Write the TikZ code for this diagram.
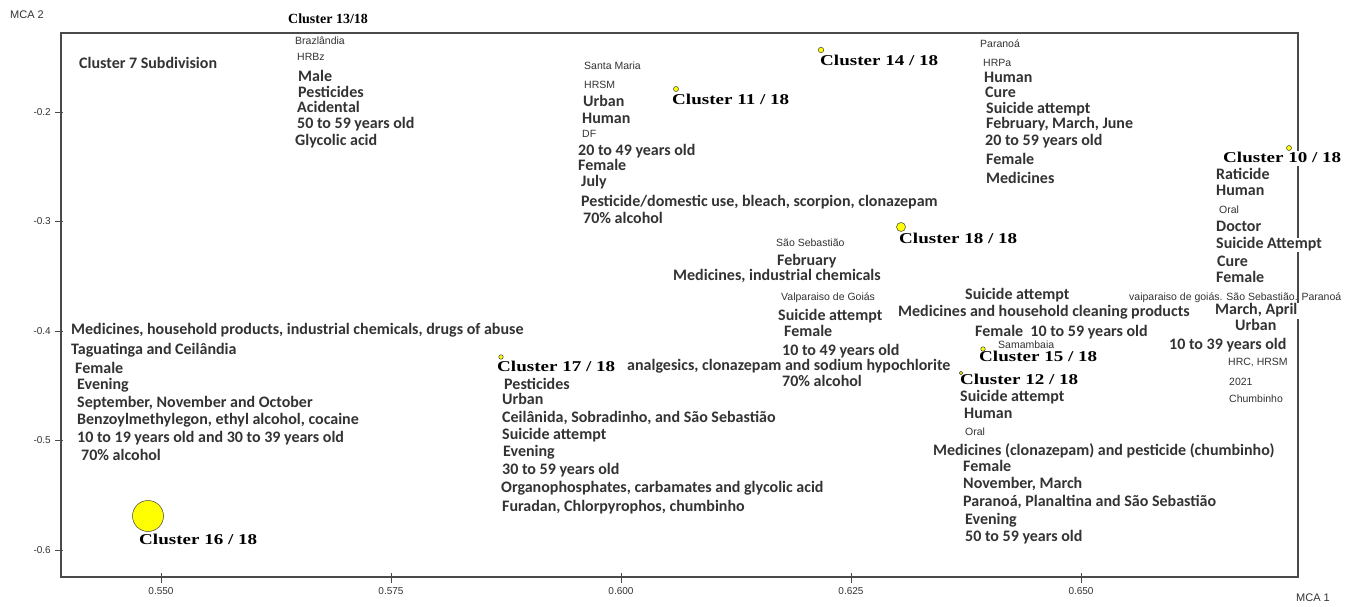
\documentclass[tikz,border=0pt]{standalone}
\usepackage{fontspec}
\newfontfamily\carl{Carlito}
\newfontfamily\ars{Liberation Sans}
\newfontfamily\tms{Liberation Serif}
\newfontfamily\clf{Liberation Serif}[FakeStretch=1.27]
\definecolor{txt}{HTML}{333333}
\definecolor{axc}{HTML}{4A4A4A}
\definecolor{dotc}{HTML}{FFFF00}
\begin{document}
\begin{tikzpicture}[x=1pt,y=-1pt,
 bt/.style={font=\carl\bfseries\fontsize{16}{16}\selectfont, text=txt, inner sep=0pt, text height=11pt, text depth=3.5pt, anchor=west},
 sm/.style={font=\ars\fontsize{10.5}{10.5}\selectfont, text=txt, inner sep=0pt, text height=7.5pt, text depth=2pt, anchor=west},
 cl/.style={font=\clf\bfseries\fontsize{15}{15}\selectfont, text=black, inner sep=0pt, text height=10pt, text depth=3pt, anchor=west},
 dot/.style={circle, draw=black!75, fill=dotc, inner sep=0pt, line width=0.5pt},
 tl/.style={font=\ars\fontsize{10}{10}\selectfont, text=txt, inner sep=0pt},
 axl/.style={font=\ars\fontsize{11}{11}\selectfont, text=txt, inner sep=0pt},
 frm/.style={draw=axc, line width=1.2pt},
 tck/.style={draw=axc, line width=0.8pt}]
\fill[white] (0,0) rectangle (1355,607);
\useasboundingbox (0,0) rectangle (1355,607);
% frame
\draw[frm] (61,33) rectangle (1298,577);
% y ticks
\foreach \yy/\lab in {112/-0.2,221.5/-0.3,331/-0.4,440.5/-0.5,550/-0.6}{
  \draw[tck] (55,\yy) -- (63,\yy);
  \node[tl, anchor=east] at (51,\yy) {\lab};
}
% x ticks
\foreach \xx/\lab in {161/0.550,391/0.575,621/0.600,851/0.625,1081/0.650}{
  \draw[tck] (\xx,573) -- (\xx,583);
  \node[tl] at (\xx,591) {\lab};
}
\node[axl, anchor=west] (mca2) at (10,15) {MCA 2};
\node[axl, anchor=west] (mca1) at (1296,598) {MCA 1};

% Cluster 7 title
\node[bt] (c7) at (79,65) {Cluster 7 Subdivision};

% Cluster 13
\node[font=\tms\bfseries\fontsize{14}{14}\selectfont, inner sep=0pt, anchor=west] (c13t) at (288,19) {Cluster 13/18};
\node[sm] (c13a) at (295,42) {Brazlândia};
\node[sm] (c13b) at (297,58) {HRBz};
\node[bt] (c13c) at (298,78) {Male};
\node[bt] (c13d) at (298,94) {Pesticides};
\node[bt] (c13e) at (297,109) {Acidental};
\node[bt] (c13f) at (297,125) {50 to 59 years old};
\node[bt] (c13g) at (295,142) {Glycolic acid};

% Cluster 11
\node[dot, minimum size=5pt] (d11) at (676,89) {};
\node[cl] (c11) at (672,101) {Cluster 11 / 18};
\node[sm] (c11a) at (584,67) {Santa Maria};
\node[sm] (c11b) at (584,86) {HRSM};
\node[bt] (c11c) at (583,103) {Urban};
\node[bt] (c11d) at (582,120) {Human};
\node[sm] (c11e) at (582,135) {DF};
\node[bt] (c11f) at (578,152) {20 to 49 years old};
\node[bt] (c11g) at (578,167) {Female};
\node[bt] (c11h) at (581,183) {July};
\node[bt] (c11i) at (581,203) {Pesticide/domestic use, bleach, scorpion, clonazepam};
\node[bt] (c11j) at (583,220) {70\% alcohol};

% Cluster 14
\node[dot, minimum size=5.5pt] (d14) at (821,50) {};
\node[cl] (c14) at (820,62) {Cluster 14 / 18};

% Paranoa block
\node[sm] (p1) at (980,45) {Paranoá};
\node[sm] (p2) at (983,64) {HRPa};
\node[bt] (p3) at (984,79) {Human};
\node[bt] (p4) at (985,94) {Cure};
\node[bt] (p5) at (986,110) {Suicide attempt};
\node[bt] (p6) at (986,125) {February, March, June};
\node[bt] (p7) at (985,142) {20 to 59 years old};
\node[bt] (p8) at (986,161) {Female};
\node[bt] (p9) at (986,180) {Medicines};

% Cluster 10
\node[dot, minimum size=5pt] (d10) at (1289,148) {};
\node[cl, fill=white, inner ysep=1pt] (c10) at (1223,159) {Cluster 10 / 18};
\node[bt] (r1) at (1216,176) {Raticide};
\node[bt] (r2) at (1216,192) {Human};
\node[sm] (r3) at (1219,211) {Oral};
\node[bt] (r4) at (1216,228) {Doctor};
\node[bt, fill=white] (r5) at (1216,245) {Suicide Attempt};
\node[bt] (r6) at (1217,263) {Cure};
\node[bt] (r7) at (1216,279) {Female};

% Cluster 18
\node[dot, minimum size=9pt] (d18) at (901,227) {};
\node[cl] (c18) at (899,240) {Cluster 18 / 18};

% middle block
\node[sm] (m1) at (776,244) {São Sebastião};
\node[bt] (m2) at (777,262) {February};
\node[bt] (m3) at (673,277) {Medicines, industrial chemicals};
\node[sm] (m4) at (781,298) {Valparaiso de Goiás};
\node[bt] (m5) at (778,317) {Suicide attempt};
\node[bt] (m6) at (784,333) {Female};
\node[bt] (m7) at (782,352) {10 to 49 years old};
\node[bt] (m8) at (627,367) {analgesics, clonazepam and sodium hypochlorite};
\node[bt] (m9) at (782,383) {70\% alcohol};

% Cluster 17
\node[dot, minimum size=4.5pt] (d17) at (501,357) {};
\node[cl] (c17) at (497,368) {Cluster 17 / 18};
\node[bt] (s1) at (504,386) {Pesticides};
\node[bt] (s2) at (502,401) {Urban};
\node[bt] (s3) at (502,419) {Ceilânida, Sobradinho, and São Sebastião};
\node[bt] (s4) at (502,436) {Suicide attempt};
\node[bt] (s5) at (503,453) {Evening};
\node[bt] (s6) at (502,471) {30 to 59 years old};
\node[bt] (s7) at (501,489) {Organophosphates, carbamates and glycolic acid};
\node[bt] (s8) at (502,508) {Furadan, Chlorpyrophos, chumbinho};

% Cluster 16 (left)
\node[bt] (l1) at (71,331) {Medicines, household products, industrial chemicals, drugs of abuse};
\node[bt] (l2) at (71,351) {Taguatinga and Ceilândia};
\node[bt] (l3) at (75,370) {Female};
\node[bt] (l4) at (77,386) {Evening};
\node[bt] (l5) at (77,404) {September, November and October};
\node[bt] (l6) at (77,421) {Benzoylmethylegon, ethyl alcohol, cocaine};
\node[bt] (l7) at (77,439) {10 to 19 years old and 30 to 39 years old};
\node[bt] (l8) at (81,457) {70\% alcohol};
\node[dot, minimum size=31pt] (d16) at (148,516) {};
\node[cl] (c16) at (139,541) {Cluster 16 / 18};

% Clusters 15 and 12
\node[bt] (q1) at (965,296) {Suicide attempt};
\node[bt] (q2) at (898,313) {Medicines and household cleaning products};
\node[bt] (q3) at (975,333) {Female\ \ 10 to 59 years old};
\node[sm] (q4) at (998,346) {Samambaia};
\node[dot, minimum size=4.5pt] (d15) at (983,349) {};
\node[cl] (c15) at (979,358) {Cluster 15 / 18};
\node[dot, minimum size=3.5pt] (d12) at (961,373) {};
\node[cl] (c12) at (960,381) {Cluster 12 / 18};
\node[bt] (q5) at (960,398) {Suicide attempt};
\node[bt] (q6) at (964,415) {Human};
\node[sm] (q7) at (965,433) {Oral};
\node[bt] (q8) at (933,452) {Medicines (clonazepam) and pesticide (chumbinho)};
\node[bt] (q9) at (963,468) {Female};
\node[bt] (q10) at (963,485) {November, March};
\node[bt] (q11) at (963,503) {Paranoá, Planaltina and São Sebastião};
\node[bt] (q12) at (965,521) {Evening};
\node[bt] (q13) at (965,538) {50 to 59 years old};

% far right
\node[sm] (v1) at (1129,298) {vaiparaiso de goiás. São Sebastião. Paranoá};
\node[bt, fill=white, inner xsep=4pt, inner ysep=1pt] (v2) at (1211,311) {March, April};
\node[bt] (v3) at (1235,327) {Urban};
\node[bt] (v4) at (1169,346) {10 to 39 years old};
\node[sm] (v5) at (1228,363) {HRC, HRSM};
\node[sm] (v6) at (1229,383) {2021};
\node[sm] (v7) at (1229,400) {Chumbinho};
\end{tikzpicture}
\end{document}
